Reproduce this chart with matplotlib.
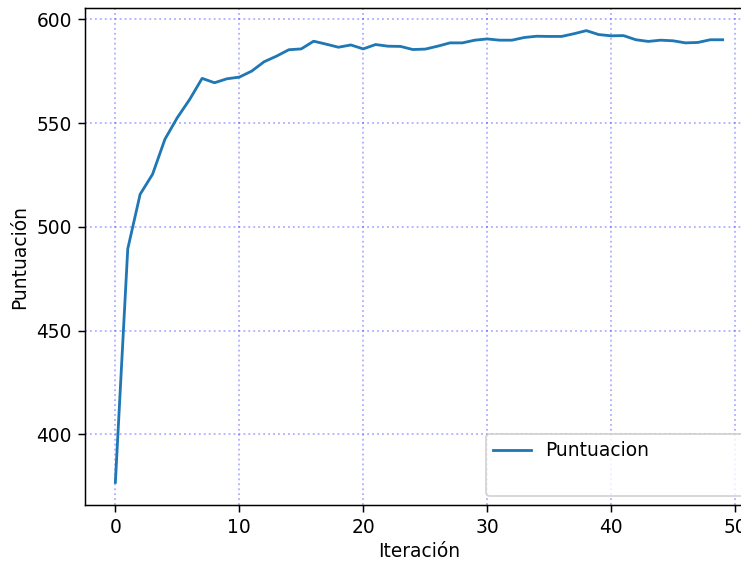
import matplotlib
matplotlib.use("Agg")
import matplotlib.pyplot as plt
from matplotlib.lines import Line2D

# puntuacion media por iteracion
iteraciones = list(range(50))
puntuacion = [
    376.9, 489.4, 515.7, 525.3, 542.2, 552.6, 561.4, 571.5, 569.4, 571.3,
    572.1, 575.0, 579.5, 582.2, 585.3, 585.7, 589.4, 588.0, 586.5, 587.6,
    585.7, 587.8, 587.0, 586.9, 585.4, 585.6, 587.0, 588.6, 588.6, 589.9,
    590.5, 589.9, 589.9, 591.2, 591.8, 591.7, 591.7, 593.0, 594.5, 592.6,
    592.0, 592.1, 590.1, 589.3, 589.9, 589.6, 588.6, 588.8, 590.1, 590.1,
]

dpi = 134.5
fig = plt.figure(figsize=(741 / dpi, 562 / dpi), dpi=dpi)
ax = fig.add_axes([0.1147, 0.1014, 0.9015, 0.8843])

ax.plot(iteraciones, puntuacion, label="Puntuacion")
ax.grid(True, color="blue", linestyle=":", linewidth=1, alpha=0.3)
ax.set_xlabel("Iteración", labelpad=2.6)
ax.set_ylabel("Puntuación")

vacio = Line2D([], [], linestyle="none")
handles, labels = ax.get_legend_handles_labels()
ax.legend(handles + [vacio], labels + [" "], loc="upper left",
          bbox_to_anchor=(0.600, 0.018, 0.3925, 0.125), mode="expand",
          borderaxespad=0)

fig.savefig("out.png", dpi=dpi)
plt.close(fig)
